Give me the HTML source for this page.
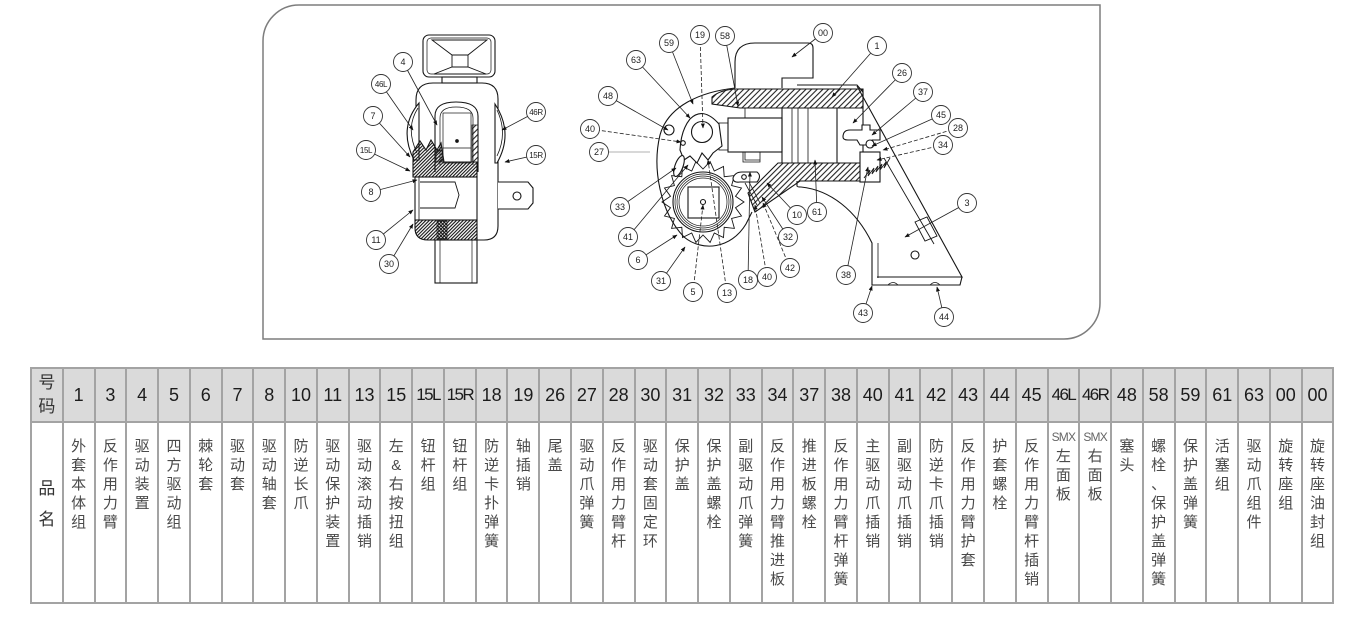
<!DOCTYPE html>
<html>
<head>
<meta charset="utf-8">
<style>
html,body{margin:0;padding:0;background:#fff;}
body{width:1350px;height:629px;position:relative;overflow:hidden;font-family:"Liberation Sans","Noto Sans CJK SC",sans-serif;}
table{position:absolute;left:30px;top:367px;width:1303px;border-collapse:collapse;table-layout:fixed;}
td{border:2px solid #a3a3a3;padding:0;text-align:center;overflow:visible;}
tr.h td{height:52px;background:#dadada;color:#1c1c1c;font-size:18px;vertical-align:middle;font-family:"Liberation Sans","Noto Sans CJK SC",sans-serif;}
tr.h td.n{font-size:17px;letter-spacing:-1.6px;}
tr.h td.hm{font-size:17px;line-height:24px;color:#333;}
tr.b td{height:181px;vertical-align:top;padding-top:14px;box-sizing:border-box;font-size:15px;line-height:19px;color:#4a4a4a;font-family:"Liberation Sans","Noto Sans CJK SC",sans-serif;}
tr.b td.pm{font-size:17px;line-height:31px;padding-top:50px;color:#333;}
.s{display:block;font-size:12px;line-height:14px;letter-spacing:-0.8px;color:#666;margin-top:-7px;margin-bottom:3px;}
svg text{font-family:"Liberation Sans",sans-serif;font-size:9px;fill:#222;text-anchor:middle;}
</style>
</head>
<body>
<svg width="1350" height="345" viewBox="0 0 1350 345" style="position:absolute;left:0;top:0">
<defs>
<pattern id="h" patternUnits="userSpaceOnUse" width="4" height="4" patternTransform="rotate(45)"><line x1="1" y1="0" x2="1" y2="4" stroke="#222" stroke-width="1.1"/></pattern>
<pattern id="hd" patternUnits="userSpaceOnUse" width="2.4" height="4" patternTransform="rotate(45)"><line x1="1" y1="0" x2="1" y2="4" stroke="#111" stroke-width="1.1"/></pattern>
<pattern id="hd2" patternUnits="userSpaceOnUse" width="2.4" height="4" patternTransform="rotate(-45)"><line x1="1" y1="0" x2="1" y2="4" stroke="#111" stroke-width="1.1"/></pattern>
<marker id="a" markerWidth="5" markerHeight="5" refX="4.5" refY="2.5" orient="auto" markerUnits="userSpaceOnUse"><path d="M0,0.5 L5,2.5 L0,4.5 Z" fill="#111"/></marker>
</defs>

<!-- frame -->
<path d="M263,41 A36,36 0 0 1 299,5 H1100 V303 A36,36 0 0 1 1064,339 H263 Z" fill="none" stroke="#7d7d7d" stroke-width="1.5"/>

<!-- ===== LEFT DRAWING ===== -->
<g fill="none" stroke="#151515" stroke-width="1.1">
  <!-- top cap -->
  <rect x="423" y="35" width="72" height="42" rx="6"/>
  <rect x="427" y="38" width="64" height="36" rx="4" stroke-width=".7"/>
  <path d="M432,40 H487 L468,55 H452 Z" stroke-width=".9"/>
  <rect x="452" y="55" width="16" height="12" stroke-width=".9"/>
  <path d="M452,67 H468 L486,74 H434 Z" stroke-width=".9"/>
  <rect x="442" y="77" width="35" height="6"/>
  <!-- body outline -->
  <path d="M416,143 V100 Q416,83 433,83 H482 Q498,83 498,99 V226 Q498,240 484,240 H477"/>
  <!-- inner U -->
  <path d="M435,172 V116 Q435,102 456,102 Q478,102 478,116 V172"/>
  <path d="M440,165 V118 Q440,107 456,107 Q473,107 473,118 V165" stroke-width=".7"/>
  <rect x="443" y="113" width="28" height="50" stroke-width=".7"/>
  <line x1="443" y1="148" x2="471" y2="148" stroke-width=".7"/>
  <circle cx="457" cy="141" r="1.3" fill="#111"/>
  <!-- 46L plate -->
  <path d="M419,103 Q398,128 414,160 L419,160 Z" fill="#fff"/>
  <path d="M418,108 Q405,128 417,153" stroke-width=".8"/>
  <!-- 46R plate -->
  <path d="M495,104 Q514,133 497,163 L495,163 Z" fill="#fff"/>
  <path d="M497,110 Q508,133 497,156" stroke-width=".8"/>
  <!-- upper hatched band with teeth -->
  <path d="M413,152 L420,141 L426,150 L431,140 L437,150 L441,143 L444,162 H477 V177 H413 Z" fill="url(#hd)"/>
  <rect x="472" y="125" width="6" height="37" fill="url(#h)" stroke-width=".7"/>
  <rect x="436" y="150" width="6" height="12" fill="url(#h)" stroke-width=".7"/>
  <!-- socket -->
  <rect x="415" y="177" width="62" height="43" fill="#fff"/>
  <line x1="419" y1="177" x2="419" y2="220" stroke-width=".8"/>
  <path d="M420,182 H455 L459,195 L455,208 H420" stroke-width=".9"/>
  <!-- lower hatched band -->
  <path d="M415,220 H477 V240 H428 Q415,240 415,228 Z" fill="url(#hd)"/>
  <rect x="437" y="221" width="10" height="18" fill="url(#hd2)" stroke-width=".7"/>
  <!-- bottom cylinder -->
  <rect x="435" y="240" width="42" height="43" fill="#fff"/>
  <line x1="440" y1="240" x2="440" y2="283" stroke-width=".7"/>
  <line x1="472" y1="240" x2="472" y2="283" stroke-width=".7"/>
  <!-- right tab -->
  <path d="M498,182 H528 L533,188 V203 L528,209 H498" fill="#fff"/>
  <circle cx="517" cy="196" r="4"/>
</g>

<!-- ===== RIGHT DRAWING ===== -->
<g fill="none" stroke="#151515" stroke-width="1.1">
  <!-- 00 swivel -->
  <path d="M735,88 V62 Q735,43 755,43 H808 Q813,43 813,48 V78 H782 V88"/>
  <!-- housing outer -->
  <path d="M735,88 C700,92 668,106 660,135 C652,168 660,212 684,237 C702,252 731,249 746,224 L752,212"/>
  <!-- top hatched band -->
  <path d="M712,97 Q720,90 735,89 H863 V108 H740 L712,104 Z" fill="url(#h)"/>
  <path d="M797,85 H857 L863,92"/>
  <!-- lower + diagonal hatched band -->
  <path d="M748,193 L778,163 H863 V181 H800 L755,212 Z" fill="url(#h)"/>
  <!-- cylinder interior -->
  <line x1="863" y1="92" x2="863" y2="181"/>
  <rect x="728" y="118" width="54" height="34" fill="#fff"/>
  <rect x="719" y="123" width="9" height="27" stroke-width=".8"/>
  <line x1="782" y1="108" x2="782" y2="163"/>
  <line x1="792" y1="108" x2="792" y2="163" stroke-width=".8"/>
  <line x1="798" y1="108" x2="798" y2="163" stroke-width=".8"/>
  <line x1="808" y1="108" x2="808" y2="163" stroke-width=".8"/>
  <line x1="837" y1="108" x2="837" y2="163"/>
  <path d="M745,108 V118 M745,152 V160 H760" stroke-width=".8"/>
  <!-- long reaction arm -->
  <path d="M857,86 L962,277 H877"/>
  <path d="M797,181 V186 Q797,187 801,187 C830,190 856,210 872,243 V285 H960 L962,277"/>
  <path d="M878,243 V278" stroke-width=".8"/>
  <path d="M888,285 Q893,280 898,285 M930,285 Q935,280 940,285" stroke-width=".8"/>
  <line x1="884" y1="158" x2="934" y2="244" stroke-width=".9"/>
  <path d="M915,222 L927,217 L937,236 L925,241 Z" stroke-width=".9"/>
  <circle cx="915" cy="255" r="4"/>
  <!-- tail hook 37 / block / spring -->
  <path d="M843,137 Q843,130 850,130 H862 V125 H870 V130 H880 V140 H872 L868,145 H860 L857,140 H848 Q843,140 843,137 Z" fill="#fff"/>
  <circle cx="870" cy="144" r="4" fill="#fff"/>
  <rect x="860" y="152" width="20" height="30" fill="#fff"/>
  <path d="M864,178 L870,170 L868,176 L874,168 L872,174 L878,166 L876,172 L882,164 L880,170 L886,162 L884,168 L890,158" stroke-width=".9"/>
  <!-- ratchet -->
  <path d="M744,202 L735.5,207.7 L741.5,216 L731.6,218.5 L734.4,228.4 L724.2,227.3 L723.5,237.5 L714.3,233 L710.1,242.4 L703,235 L695.9,242.4 L691.7,233 L682.5,237.5 L681.8,227.3 L671.6,228.4 L674.4,218.5 L664.5,216 L670.5,207.7 L662,202 L670.5,196.3 L664.5,188 L674.4,185.5 L671.6,175.6 L681.8,176.7 L682.5,166.5 L691.7,171 L695.9,161.6 L703,169 L710.1,161.6 L714.3,171 L723.5,166.5 L724.2,176.7 L734.4,175.6 L731.6,185.5 L741.5,188 L735.5,196.3 Z" stroke-width=".9"/>
  <circle cx="703" cy="202" r="30" fill="#fff"/>
  <circle cx="703" cy="202" r="28" stroke-width=".7"/>
  <circle cx="703" cy="202" r="26" stroke-width=".7"/>
  <circle cx="703" cy="202" r="24" stroke-width=".7"/>
  <rect x="688" y="187" width="31" height="31" fill="#fff"/>
  <circle cx="703" cy="202" r="2.5"/>
  <!-- pawl 63 / 19 -->
  <path d="M690,119 Q703,106 719,124 L722,146 L713,153 L708,160 L702,153 L697,163 L690,156 L684,160 L680,150 Q681,130 690,119 Z" fill="#fff"/>
  <circle cx="702" cy="132" r="10.5"/>
  <ellipse cx="679" cy="166" rx="4" ry="11" transform="rotate(20 679 166)" fill="#fff"/>
  <circle cx="669" cy="130" r="5"/>
  <circle cx="683" cy="143" r="2.3"/>
  <!-- lower pawl 10 / spring 18 -->
  <path d="M733,178 Q735,172 742,172 H757 Q762,176 757,182 H740 Q733,183 733,178 Z" fill="#fff"/>
  <circle cx="744" cy="177" r="2.3"/>
  <path d="M745,183 L757,205 M749,182 L760,203" stroke-width=".8"/>
  <path d="M743,152 H760 V162 H743 Z" stroke-width=".8"/>
</g>

<!-- ===== LEADERS ===== -->
<g stroke="#222" stroke-width=".8" fill="none" marker-end="url(#a)">
  <line x1="403" y1="62" x2="437" y2="125"/>
  <line x1="381" y1="84" x2="413" y2="130"/>
  <line x1="373" y1="116" x2="410" y2="157"/>
  <line x1="366" y1="150" x2="410" y2="171"/>
  <line x1="371" y1="192" x2="417" y2="180"/>
  <line x1="376" y1="240" x2="413" y2="210"/>
  <line x1="389" y1="264" x2="413" y2="224"/>
  <line x1="536" y1="112" x2="502" y2="130"/>
  <line x1="536" y1="155" x2="505" y2="162"/>
  <line x1="823" y1="33" x2="792" y2="57"/>
  <line x1="700" y1="35" x2="703" y2="128" stroke-dasharray="4,2"/>
  <line x1="725" y1="36" x2="738" y2="106"/>
  <line x1="669" y1="43" x2="693" y2="104"/>
  <line x1="636" y1="60" x2="690" y2="118"/>
  <line x1="608" y1="96" x2="668" y2="130"/>
  <line x1="590" y1="129" x2="681" y2="142" stroke-dasharray="4,2"/>
  <line x1="599" y1="152" x2="650" y2="152" stroke="#999" marker-end="none"/>
  <line x1="620" y1="207" x2="676" y2="168"/>
  <line x1="628" y1="237" x2="688" y2="165"/>
  <line x1="638" y1="260" x2="677" y2="235"/>
  <line x1="661" y1="281" x2="685" y2="247"/>
  <line x1="693" y1="292" x2="703" y2="205" stroke-dasharray="4,2"/>
  <line x1="727" y1="293" x2="708" y2="160" stroke-dasharray="4,2"/>
  <line x1="748" y1="280" x2="750" y2="172"/>
  <line x1="767" y1="277" x2="755" y2="205" stroke-dasharray="4,2"/>
  <line x1="790" y1="268" x2="763" y2="203" stroke-dasharray="4,2"/>
  <line x1="788" y1="237" x2="762" y2="197"/>
  <line x1="797" y1="215" x2="767" y2="183"/>
  <line x1="817" y1="212" x2="815" y2="160"/>
  <line x1="846" y1="275" x2="868" y2="167"/>
  <line x1="863" y1="313" x2="872" y2="286"/>
  <line x1="944" y1="317" x2="937" y2="287"/>
  <line x1="877" y1="46" x2="832" y2="97"/>
  <line x1="902" y1="73" x2="853" y2="123"/>
  <line x1="923" y1="92" x2="872" y2="135"/>
  <line x1="941" y1="115" x2="872" y2="146"/>
  <line x1="958" y1="128" x2="883" y2="150" stroke-dasharray="4,2"/>
  <line x1="943" y1="145" x2="877" y2="160" stroke-dasharray="4,2"/>
  <line x1="967" y1="203" x2="905" y2="237"/>
</g>

<!-- ===== CALLOUT CIRCLES ===== -->
<g fill="#fff" stroke="#333" stroke-width=".9">
  <circle cx="403" cy="62" r="9.5"/><circle cx="381" cy="84" r="9.5"/><circle cx="373" cy="116" r="9.5"/>
  <circle cx="366" cy="150" r="9.5"/><circle cx="371" cy="192" r="9.5"/><circle cx="376" cy="240" r="9.5"/>
  <circle cx="389" cy="264" r="9.5"/><circle cx="536" cy="112" r="9.5"/><circle cx="536" cy="155" r="9.5"/>
  <circle cx="823" cy="33" r="9.5"/><circle cx="700" cy="35" r="9.5"/><circle cx="725" cy="36" r="9.5"/>
  <circle cx="669" cy="43" r="9.5"/><circle cx="636" cy="60" r="9.5"/><circle cx="608" cy="96" r="9.5"/>
  <circle cx="590" cy="129" r="9.5"/><circle cx="599" cy="152" r="9.5"/><circle cx="620" cy="207" r="9.5"/>
  <circle cx="628" cy="237" r="9.5"/><circle cx="638" cy="260" r="9.5"/><circle cx="661" cy="281" r="9.5"/>
  <circle cx="693" cy="292" r="9.5"/><circle cx="727" cy="293" r="9.5"/><circle cx="748" cy="280" r="9.5"/>
  <circle cx="767" cy="277" r="9.5"/><circle cx="790" cy="268" r="9.5"/><circle cx="788" cy="237" r="9.5"/>
  <circle cx="797" cy="215" r="9.5"/><circle cx="817" cy="212" r="9.5"/><circle cx="846" cy="275" r="9.5"/>
  <circle cx="863" cy="313" r="9.5"/><circle cx="944" cy="317" r="9.5"/><circle cx="877" cy="46" r="9.5"/>
  <circle cx="902" cy="73" r="9.5"/><circle cx="923" cy="92" r="9.5"/><circle cx="941" cy="115" r="9.5"/>
  <circle cx="958" cy="128" r="9.5"/><circle cx="943" cy="145" r="9.5"/><circle cx="967" cy="203" r="9.5"/>
</g>
<g>
  <text x="403" y="65">4</text><text x="381" y="87" style="font-size:8px;letter-spacing:-.4px">46L</text><text x="373" y="119">7</text>
  <text x="366" y="153" style="font-size:8px;letter-spacing:-.4px">15L</text><text x="371" y="195">8</text><text x="376" y="243">11</text>
  <text x="389" y="267">30</text><text x="536" y="115" style="font-size:8px;letter-spacing:-.4px">46R</text><text x="536" y="158" style="font-size:8px;letter-spacing:-.4px">15R</text>
  <text x="823" y="36">00</text><text x="700" y="38">19</text><text x="725" y="39">58</text>
  <text x="669" y="46">59</text><text x="636" y="63">63</text><text x="608" y="99">48</text>
  <text x="590" y="132">40</text><text x="599" y="155">27</text><text x="620" y="210">33</text>
  <text x="628" y="240">41</text><text x="638" y="263">6</text><text x="661" y="284">31</text>
  <text x="693" y="295">5</text><text x="727" y="296">13</text><text x="748" y="283">18</text>
  <text x="767" y="280">40</text><text x="790" y="271">42</text><text x="788" y="240">32</text>
  <text x="797" y="218">10</text><text x="817" y="215">61</text><text x="846" y="278">38</text>
  <text x="863" y="316">43</text><text x="944" y="320">44</text><text x="877" y="49">1</text>
  <text x="902" y="76">26</text><text x="923" y="95">37</text><text x="941" y="118">45</text>
  <text x="958" y="131">28</text><text x="943" y="148">34</text><text x="967" y="206">3</text>
</g>
</svg>

<table>
<colgroup>
<col style="width:31.78px"><col style="width:31.78px"><col style="width:31.78px"><col style="width:31.78px"><col style="width:31.78px"><col style="width:31.78px"><col style="width:31.78px"><col style="width:31.78px"><col style="width:31.78px"><col style="width:31.78px"><col style="width:31.78px"><col style="width:31.78px"><col style="width:31.78px"><col style="width:31.78px"><col style="width:31.78px"><col style="width:31.78px"><col style="width:31.78px"><col style="width:31.78px"><col style="width:31.78px"><col style="width:31.78px"><col style="width:31.78px"><col style="width:31.78px"><col style="width:31.78px"><col style="width:31.78px"><col style="width:31.78px"><col style="width:31.78px"><col style="width:31.78px"><col style="width:31.78px"><col style="width:31.78px"><col style="width:31.78px"><col style="width:31.78px"><col style="width:31.78px"><col style="width:31.78px"><col style="width:31.78px"><col style="width:31.78px"><col style="width:31.78px"><col style="width:31.78px"><col style="width:31.78px"><col style="width:31.78px"><col style="width:31.78px"><col style="width:31.78px">
</colgroup>
<tr class="h">
<td class="hm">号<br>码</td><td>1</td><td>3</td><td>4</td><td>5</td><td>6</td><td>7</td><td>8</td><td>10</td><td>11</td><td>13</td><td>15</td><td class="n">15L</td><td class="n">15R</td><td>18</td><td>19</td><td>26</td><td>27</td><td>28</td><td>30</td><td>31</td><td>32</td><td>33</td><td>34</td><td>37</td><td>38</td><td>40</td><td>41</td><td>42</td><td>43</td><td>44</td><td>45</td><td class="n">46L</td><td class="n">46R</td><td>48</td><td>58</td><td>59</td><td>61</td><td>63</td><td>00</td><td>00</td>
</tr>
<tr class="b">
<td class="pm">品<br>名</td>
<td>外<br>套<br>本<br>体<br>组</td>
<td>反<br>作<br>用<br>力<br>臂</td>
<td>驱<br>动<br>装<br>置</td>
<td>四<br>方<br>驱<br>动<br>组</td>
<td>棘<br>轮<br>套</td>
<td>驱<br>动<br>套</td>
<td>驱<br>动<br>轴<br>套</td>
<td>防<br>逆<br>长<br>爪</td>
<td>驱<br>动<br>保<br>护<br>装<br>置</td>
<td>驱<br>动<br>滚<br>动<br>插<br>销</td>
<td>左<br>&amp;<br>右<br>按<br>扭<br>组</td>
<td>钮<br>杆<br>组</td>
<td>钮<br>杆<br>组</td>
<td>防<br>逆<br>卡<br>扑<br>弹<br>簧</td>
<td>轴<br>插<br>销</td>
<td>尾<br>盖</td>
<td>驱<br>动<br>爪<br>弹<br>簧</td>
<td>反<br>作<br>用<br>力<br>臂<br>杆</td>
<td>驱<br>动<br>套<br>固<br>定<br>环</td>
<td>保<br>护<br>盖</td>
<td>保<br>护<br>盖<br>螺<br>栓</td>
<td>副<br>驱<br>动<br>爪<br>弹<br>簧</td>
<td>反<br>作<br>用<br>力<br>臂<br>推<br>进<br>板</td>
<td>推<br>进<br>板<br>螺<br>栓</td>
<td>反<br>作<br>用<br>力<br>臂<br>杆<br>弹<br>簧</td>
<td>主<br>驱<br>动<br>爪<br>插<br>销</td>
<td>副<br>驱<br>动<br>爪<br>插<br>销</td>
<td>防<br>逆<br>卡<br>爪<br>插<br>销</td>
<td>反<br>作<br>用<br>力<br>臂<br>护<br>套</td>
<td>护<br>套<br>螺<br>栓</td>
<td>反<br>作<br>用<br>力<br>臂<br>杆<br>插<br>销</td>
<td><span class="s">SMX</span>左<br>面<br>板</td>
<td><span class="s">SMX</span>右<br>面<br>板</td>
<td>塞<br>头</td>
<td>螺<br>栓<br>、<br>保<br>护<br>盖<br>弹<br>簧</td>
<td>保<br>护<br>盖<br>弹<br>簧</td>
<td>活<br>塞<br>组</td>
<td>驱<br>动<br>爪<br>组<br>件</td>
<td>旋<br>转<br>座<br>组</td>
<td>旋<br>转<br>座<br>油<br>封<br>组</td>
</tr>
</table>
</body>
</html>
